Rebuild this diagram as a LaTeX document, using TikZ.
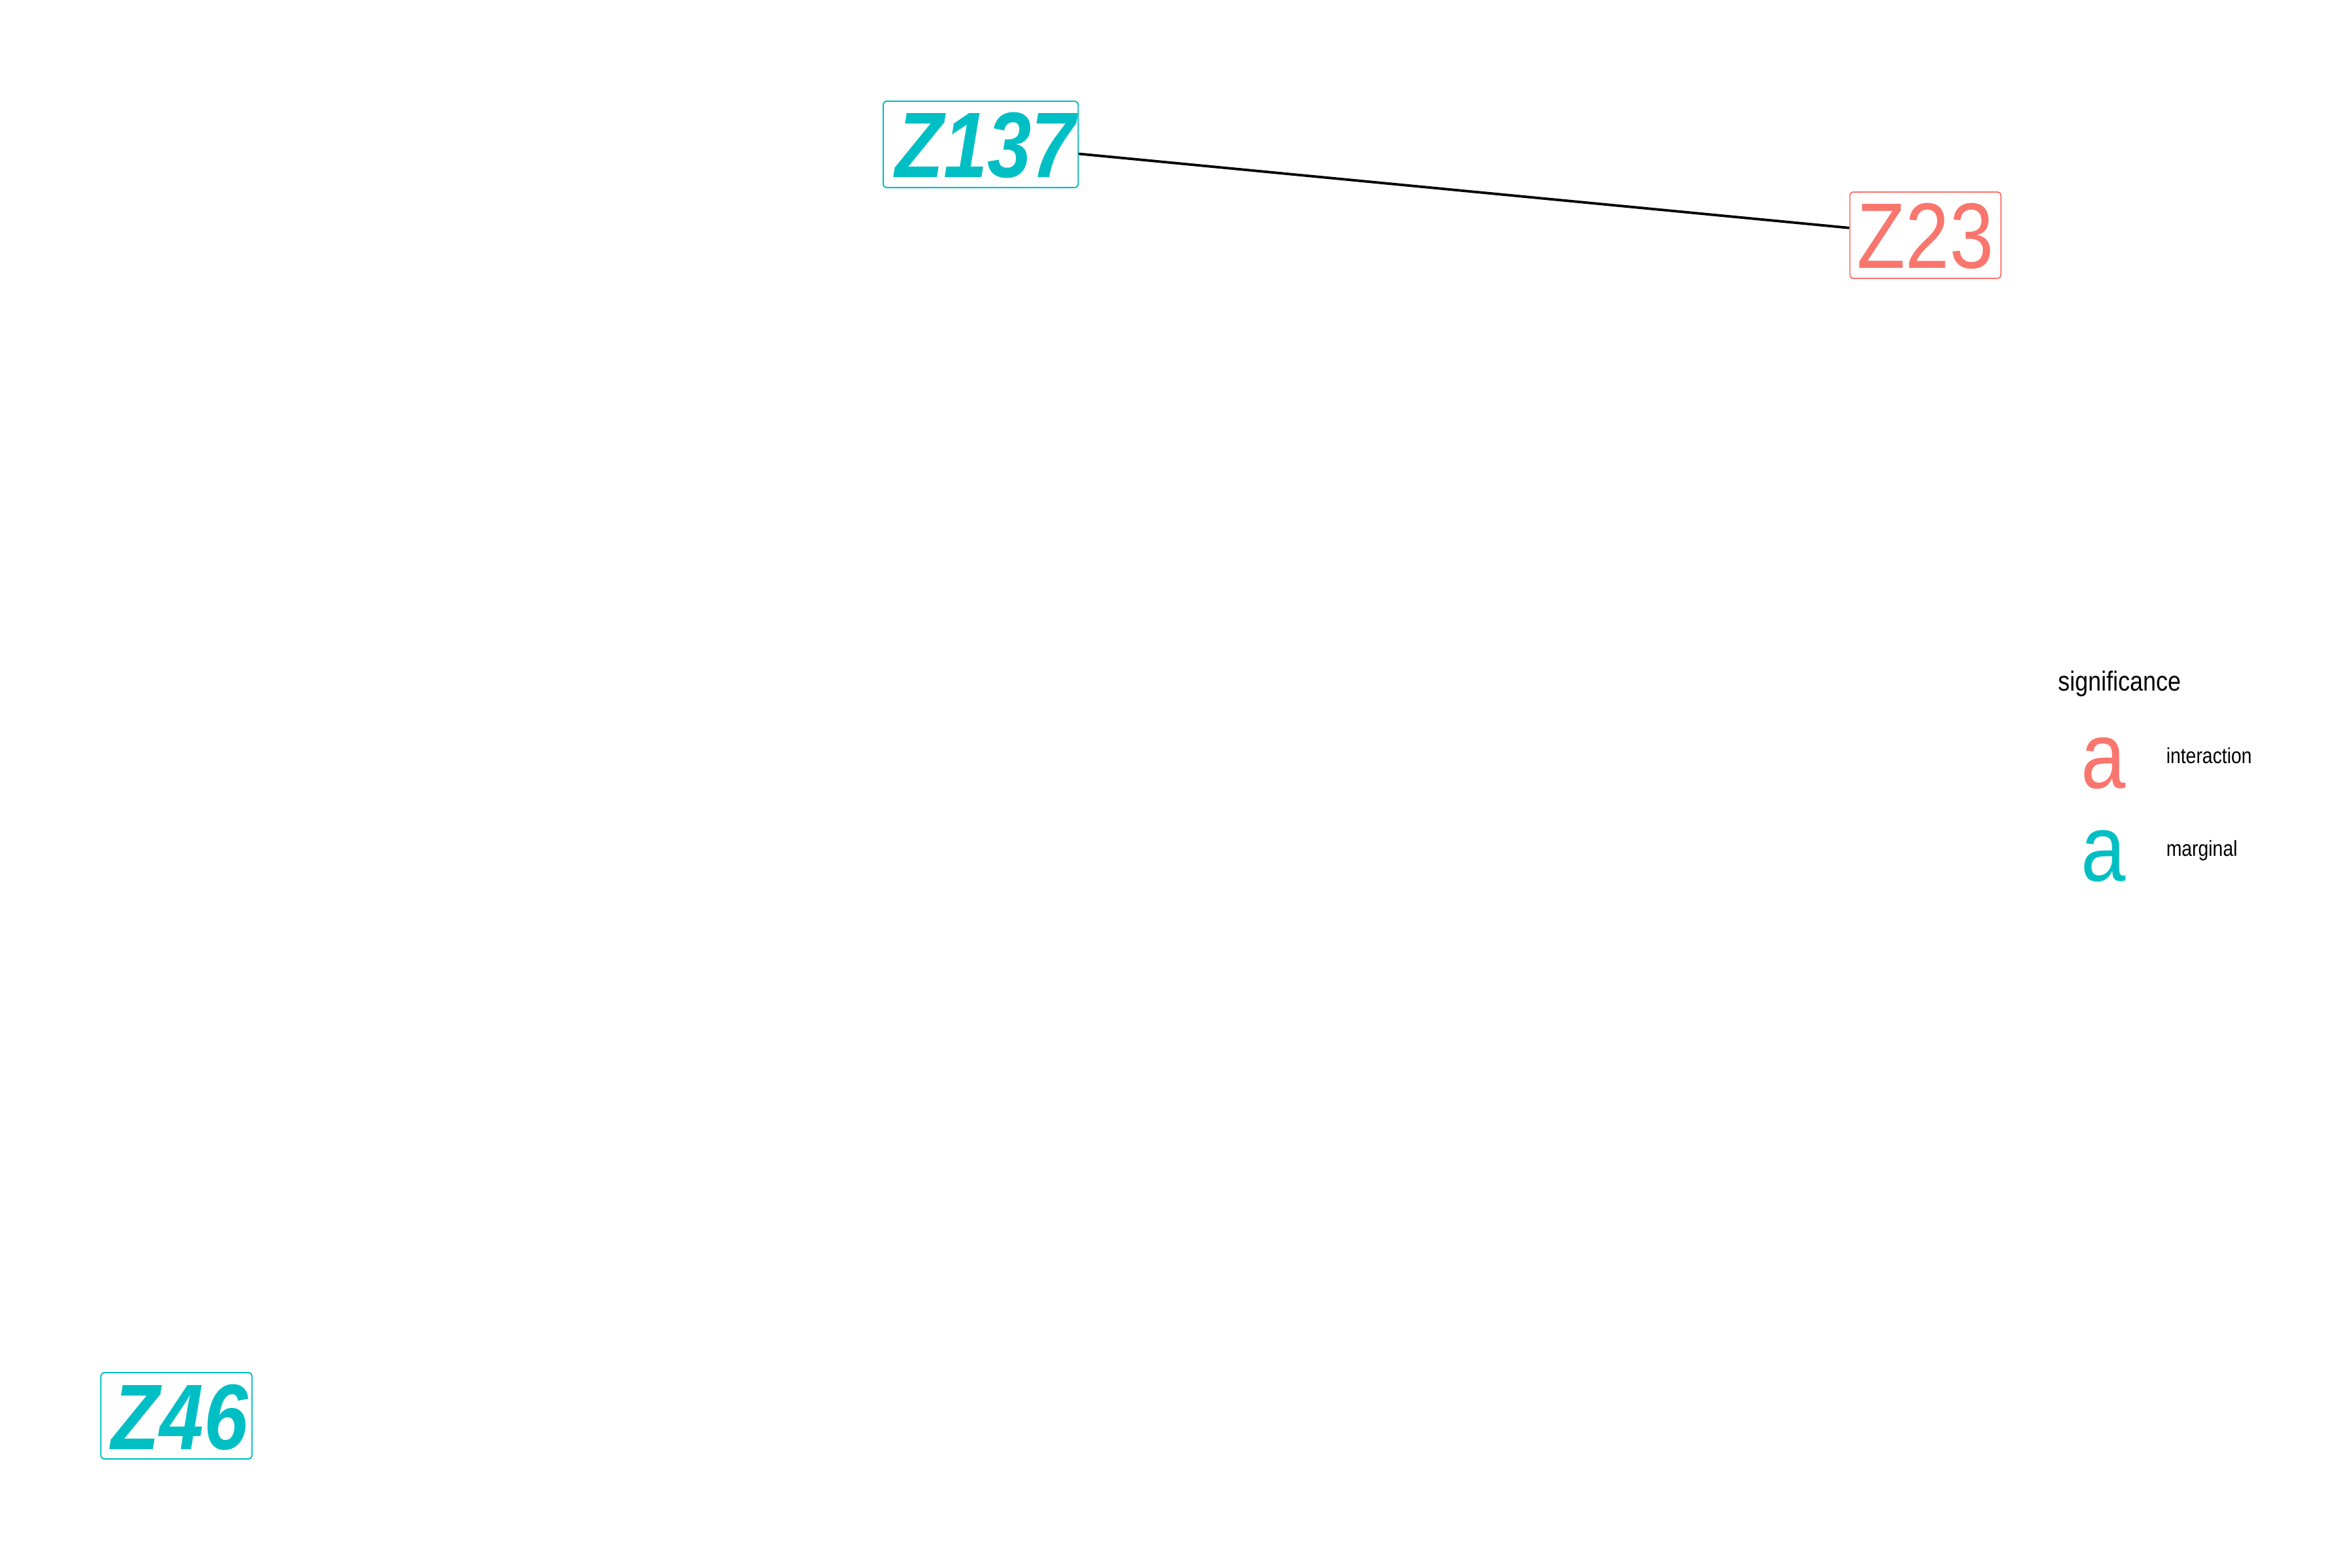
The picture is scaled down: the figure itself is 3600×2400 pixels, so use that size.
\documentclass[tikz,border=0pt]{standalone}
\usepackage{fontspec}
\setmainfont{Liberation Sans}[FakeStretch=0.85]
\definecolor{sigred}{HTML}{F8766D}
\definecolor{sigteal}{HTML}{00BFC4}

\begin{document}
\begin{tikzpicture}[x=0.01cm, y=-0.01cm]
    \tikzset{ labelbox/.style={draw, fill=white, rounded corners=0.05cm, line width=0.55pt,
        font=\fontsize{40.5}{40.5}\selectfont, inner xsep=3.2pt, inner ysep=4.3pt,
        text height=29pt, text depth=0pt},
      inter/.style={labelbox, draw=sigred, text=sigred},
      marg/.style={labelbox, draw=sigteal, text=sigteal, font=\fontsize{40.5}{40.5}\selectfont\bfseries\itshape},
      keytext/.style={anchor=base west, inner sep=0pt, font=\fontsize{9.5}{9.5}\selectfont},
      keyglyph/.style={anchor=base, inner sep=0pt, font=\fontsize{41}{41}\selectfont} }
    \useasboundingbox (0,0) rectangle (3600,2400);

    % labels
    \node[marg]  (z137) at (1501, 221)  {\kern2pt Z137\kern-2pt};
    \node[inter] (z23)  at (2947, 360)  {Z23};
    \node[marg]  (z46)  at (270, 2167)  {\kern1.5pt Z46\kern-1.5pt};

    % edge
    \draw[line width=1.1pt] (z137) -- (z23);

    % legend
    \node[anchor=base west, inner sep=0pt, font=\fontsize{12}{12}\selectfont] (sig) at (3150, 1057) {significance};
    \node[keyglyph, text=sigred]  (ka) at (3220, 1206) {a};
    \node[keyglyph, text=sigteal] (kb) at (3220, 1348) {a};
    \node[keytext] (ia) at (3315, 1168) {interaction};
    \node[keytext] (ib) at (3315, 1310) {marginal};
\end{tikzpicture}
\end{document}
